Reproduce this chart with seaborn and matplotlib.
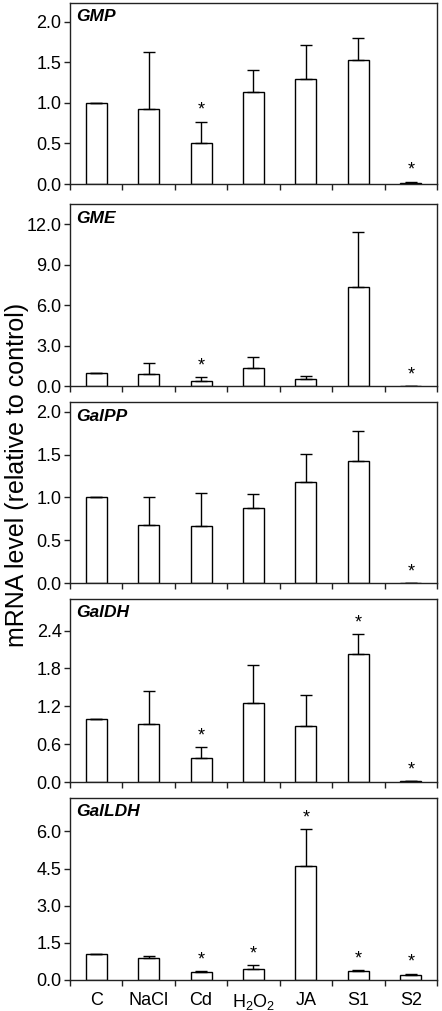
import numpy as np
import pandas as pd
import matplotlib
matplotlib.use("Agg")
import matplotlib.pyplot as plt
import seaborn as sns

# --- data ---
treatments = ["C", "NaCl", "Cd", "H2O2", "JA", "S1", "S2"]
tick_labels = ["C", "NaCl", "Cd", "H$_2$O$_2$", "JA", "S1", "S2"]

genes = ["GMP", "GME", "GalPP", "GalDH", "GalLDH"]

gmp_mean = [1.00, 0.93, 0.50, 1.13, 1.30, 1.53, 0.015]
gmp_err = [0.00, 0.70, 0.27, 0.27, 0.41, 0.27, 0.015]
gmp_sig = [0, 0, 1, 0, 0, 0, 1]

gme_mean = [1.00, 0.88, 0.38, 1.35, 0.56, 7.36, 0.0]
gme_err = [0.00, 0.84, 0.29, 0.78, 0.21, 4.09, 0.0]
gme_sig = [0, 0, 1, 0, 0, 0, 1]

galpp_mean = [1.00, 0.68, 0.665, 0.878, 1.18, 1.425, 0.0]
galpp_err = [0.00, 0.32, 0.39, 0.16, 0.33, 0.345, 0.0]
galpp_sig = [0, 0, 0, 0, 0, 0, 1]

galdh_mean = [1.00, 0.92, 0.38, 1.25, 0.88, 2.03, 0.01]
galdh_err = [0.00, 0.53, 0.17, 0.605, 0.50, 0.32, 0.0]
galdh_sig = [0, 0, 1, 0, 0, 1, 1]

galldh_mean = [1.05, 0.88, 0.31, 0.46, 4.59, 0.35, 0.20]
galldh_err = [0.00, 0.10, 0.04, 0.16, 1.52, 0.05, 0.06]
galldh_sig = [0, 0, 1, 1, 1, 1, 1]

yticks = [
    [0.0, 0.5, 1.0, 1.5, 2.0],
    [0.0, 3.0, 6.0, 9.0, 12.0],
    [0.0, 0.5, 1.0, 1.5, 2.0],
    [0.0, 0.6, 1.2, 1.8, 2.4],
    [0.0, 1.5, 3.0, 4.5, 6.0],
]
ytops = [2.23, 13.5, 2.11, 2.9, 7.35]

means = [gmp_mean, gme_mean, galpp_mean, galdh_mean, galldh_mean]
errs = [gmp_err, gme_err, galpp_err, galdh_err, galldh_err]
sigs = [gmp_sig, gme_sig, galpp_sig, galdh_sig, galldh_sig]

# --- style ---
sns.set_style("ticks")
plt.rcParams["font.family"] = ["Liberation Sans", "DejaVu Sans"]
plt.rcParams["mathtext.default"] = "regular"
plt.rcParams["text.color"] = "black"
plt.rcParams["xtick.labelcolor"] = "black"
plt.rcParams["ytick.labelcolor"] = "black"
line_col = "#222222"

fig = plt.figure(figsize=(4.42, 10.11), dpi=100)

# panel boxes in figure fraction
left, width = 0.158, 0.831
panel_bounds = [
    (0.818, 0.997),
    (0.618, 0.798),
    (0.4233, 0.602),
    (0.2265, 0.4075),
    (0.0307, 0.2107),
]

for k, gene in enumerate(genes):
    bot, top = panel_bounds[k]
    ax = fig.add_axes([left, bot, width, top - bot])
    df = pd.DataFrame({"treatment": treatments, "level": means[k], "err": errs[k]})

    sns.barplot(
        data=df, x="treatment", y="level", order=treatments,
        color="white", edgecolor="black", linewidth=1.0,
        width=0.4, saturation=1, errorbar=None, ax=ax
    )
    ax.errorbar(
        np.arange(len(treatments)), df["level"],
        yerr=[np.zeros(len(treatments)), df["err"]],
        fmt="none", ecolor="black", elinewidth=1.0, capsize=4, capthick=1.0
    )

    # significance asterisks above the error bars
    for i, s in enumerate(sigs[k]):
        if s:
            ax.annotate("*", xy=(i, means[k][i] + errs[k][i]), xytext=(0, 8),
                        textcoords="offset points", ha="center", va="center",
                        fontsize=13, color="black")

    ax.set_xlim(-0.5, len(treatments) - 0.5)
    ax.set_ylim(0, ytops[k])
    ax.set_yticks(yticks[k])
    ax.set_yticklabels([f"{v:.1f}" for v in yticks[k]], fontsize=13)
    ax.set_xlabel("")
    ax.set_ylabel("")

    ax.set_xticks(np.arange(len(treatments)))
    ax.set_xticks(np.arange(len(treatments) + 1) - 0.5, minor=True)
    ax.tick_params(axis="x", which="major", length=0, pad=9)
    ax.tick_params(axis="x", which="minor", length=4.5, width=1.0, direction="out",
                   color=line_col)
    ax.tick_params(axis="y", length=4.5, width=1.0, direction="out", pad=1.5,
                   color=line_col)
    if k == len(genes) - 1:
        ax.set_xticklabels(tick_labels, fontsize=13)
    else:
        ax.set_xticklabels([])

    for sp in ax.spines.values():
        sp.set_visible(True)
        sp.set_linewidth(1.0)
        sp.set_color(line_col)

    ax.text(0.018, 0.965, gene, transform=ax.transAxes, ha="left", va="top",
            fontsize=12.5, fontweight="bold", fontstyle="italic")

fig.text(0.038, 0.53, "mRNA level (relative to control)", rotation=90,
         ha="center", va="center", fontsize=18)

fig.savefig("out.png", dpi=100)
